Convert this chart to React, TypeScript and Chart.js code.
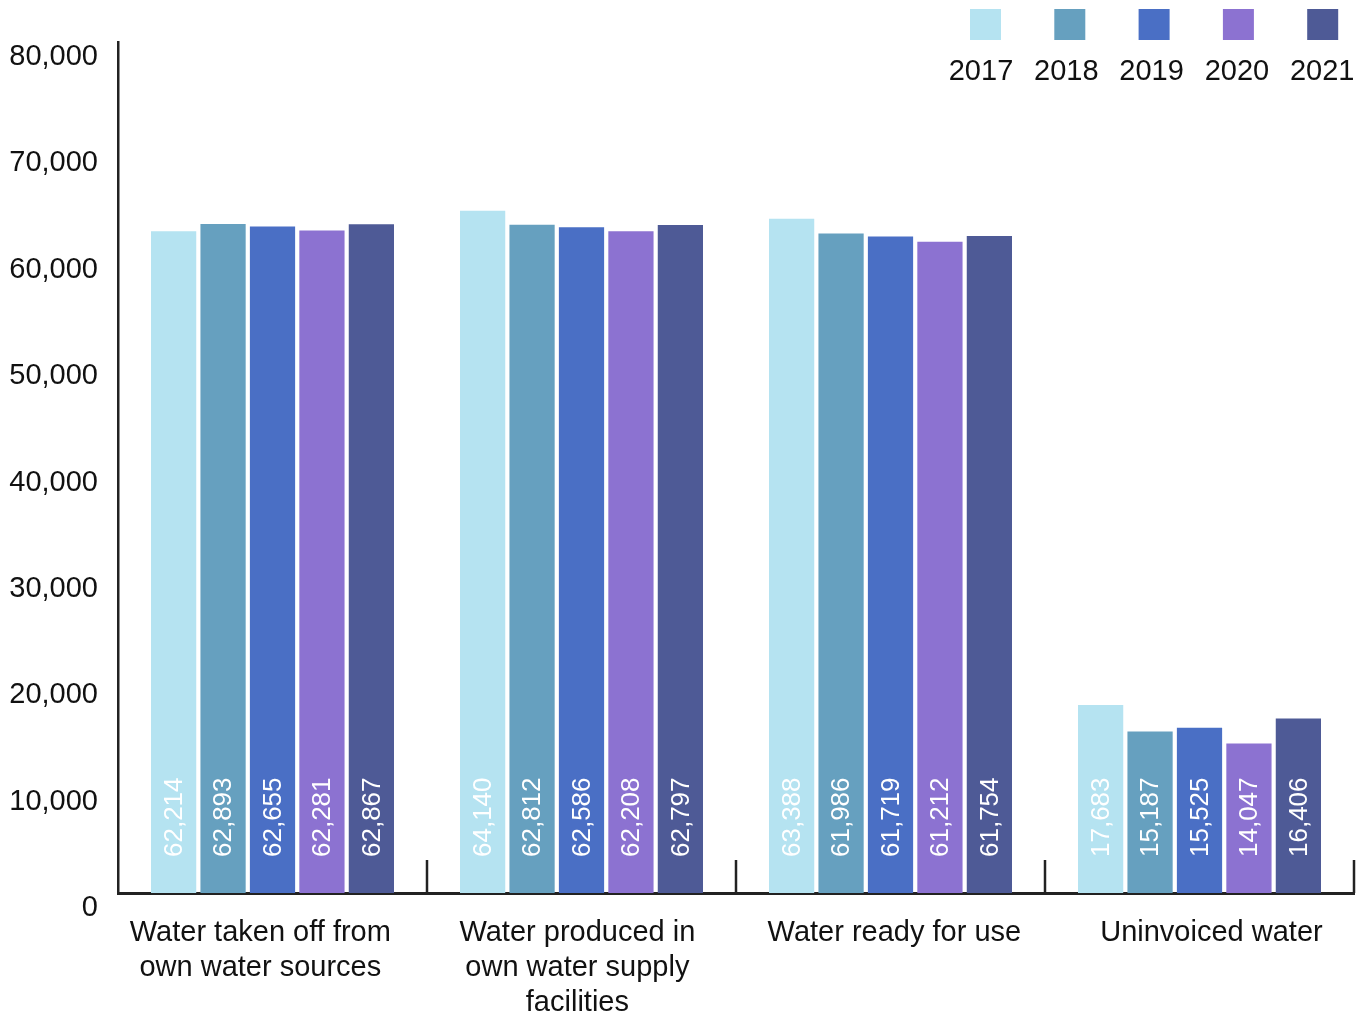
import React, { useEffect, useRef } from "react";
import { Chart, registerables } from "chart.js";

Chart.register(...registerables);

const categories: (string | string[])[] = [
  ["Water taken off from", "own water sources"],
  ["Water produced in", "own water supply", "facilities"],
  "Water ready for use",
  "Uninvoiced water",
];

const years = ["2017", "2018", "2019", "2020", "2021"];

const values2017 = [62214, 64140, 63388, 17683];
const values2018 = [62893, 62812, 61986, 15187];
const values2019 = [62655, 62586, 61719, 15525];
const values2020 = [62281, 62208, 61212, 14047];
const values2021 = [62867, 62797, 61754, 16406];

const yTicks = [0, 10000, 20000, 30000, 40000, 50000, 60000, 70000, 80000];

const colors = ["#b5e3f1", "#66a0bf", "#4a6fc5", "#8c72d1", "#4e5a96"];

const FONT = "'Liberation Sans', Arial, sans-serif";
const AXIS_COLOR = "#222222";
const TEXT_COLOR = "#111111";

const fmt = (v: number) => v.toLocaleString("en-US");

// Rotated white value labels inside each bar, read bottom-to-top
const valueLabels = {
  id: "valueLabels",
  afterDatasetsDraw(chart: any) {
    const ctx = chart.ctx;
    ctx.save();
    ctx.font = `26px ${FONT}`;
    ctx.fillStyle = "#ffffff";
    ctx.textAlign = "left";
    ctx.textBaseline = "middle";
    chart.data.datasets.forEach((ds: any, di: number) => {
      const meta = chart.getDatasetMeta(di);
      meta.data.forEach((bar: any, i: number) => {
        ctx.save();
        ctx.translate(bar.x, bar.base - 36);
        ctx.rotate(-Math.PI / 2);
        ctx.fillText(fmt(ds.data[i]), 0, 1);
        ctx.restore();
      });
    });
    ctx.restore();
  },
};

// Short upward separators between category groups, plus the category names
// spread slightly wider than the groups themselves
const categoryAxis = {
  id: "categoryAxis",
  afterDraw(chart: any) {
    const ctx = chart.ctx;
    const x = chart.scales.x;
    const { bottom, left, right } = chart.chartArea;
    const labels = chart.data.labels;
    const n = labels.length;
    ctx.save();
    ctx.strokeStyle = AXIS_COLOR;
    ctx.lineWidth = 2.5;
    for (let i = 0; i < n; i++) {
      const px =
        i < n - 1
          ? (x.getPixelForValue(i) + x.getPixelForValue(i + 1)) / 2
          : right;
      ctx.beginPath();
      ctx.moveTo(px, bottom);
      ctx.lineTo(px, bottom - 33);
      ctx.stroke();
    }

    ctx.font = `29px ${FONT}`;
    ctx.fillStyle = TEXT_COLOR;
    ctx.textAlign = "center";
    ctx.textBaseline = "middle";
    const mid = (left + right) / 2 + 4;
    const spread = 1.026;
    labels.forEach((lab: string | string[], i: number) => {
      const cx = mid + (x.getPixelForValue(i) - mid) * spread;
      const lines = Array.isArray(lab) ? lab : [lab];
      lines.forEach((line, j) => {
        ctx.fillText(line, cx, bottom + 40 + j * 35);
      });
    });
    ctx.restore();
  },
};

// Legend with swatches above their year labels, top right
const topLegend = {
  id: "topLegend",
  afterDraw(chart: any) {
    const ctx = chart.ctx;
    ctx.save();
    ctx.font = `29px ${FONT}`;
    ctx.textAlign = "center";
    ctx.textBaseline = "middle";
    const startX = 985;
    const step = 84.3;
    chart.data.datasets.forEach((ds: any, i: number) => {
      const cx = startX + i * step;
      ctx.fillStyle = ds.backgroundColor;
      ctx.fillRect(cx - 15, 9, 31, 31);
      ctx.fillStyle = TEXT_COLOR;
      ctx.fillText(ds.label, cx - 4 + i, 72);
    });
    ctx.restore();
  },
};

export default function App() {
  const canvasRef = useRef<HTMLCanvasElement | null>(null);

  useEffect(() => {
    if (!canvasRef.current) return;
    const series = [values2017, values2018, values2019, values2020, values2021];
    const chart = new Chart(canvasRef.current, {
      type: "bar",
      data: {
        labels: categories,
        datasets: years.map((y, i) => ({
          label: y,
          data: series[i],
          backgroundColor: colors[i],
          borderWidth: 0,
          categoryPercentage: 0.8,
          barPercentage: 0.915,
        })),
      },
      options: {
        responsive: false,
        animation: false,
        layout: { padding: { top: 42, right: 16, left: 0, bottom: 0 } },
        plugins: {
          legend: { display: false },
          tooltip: { enabled: false },
        },
        scales: {
          x: {
            grid: { display: false, drawTicks: false },
            border: { display: true, color: AXIS_COLOR, width: 3 },
            ticks: { display: false },
            afterFit: (scale: any) => {
              scale.height = 125;
            },
          },
          y: {
            min: 0,
            max: 80000,
            afterBuildTicks: (scale: any) => {
              scale.ticks = yTicks.map((v) => ({ value: v }));
            },
            grid: { display: false, drawTicks: false },
            border: { display: true, color: AXIS_COLOR, width: 2.5 },
            ticks: {
              color: TEXT_COLOR,
              font: { family: FONT, size: 29 },
              padding: 20,
              labelOffset: 15,
              callback: (v: any) => fmt(Number(v)),
            },
            afterFit: (scale: any) => {
              scale.width = 118;
            },
          },
        },
      },
      plugins: [valueLabels, categoryAxis, topLegend],
    });
    return () => chart.destroy();
  }, []);

  return (
    <div style={{ position: "absolute", left: 0, top: 0, width: 1370, height: 1018, background: "#ffffff" }}>
      <canvas ref={canvasRef} width={1370} height={1018} style={{ width: 1370, height: 1018 }} />
    </div>
  );
}
